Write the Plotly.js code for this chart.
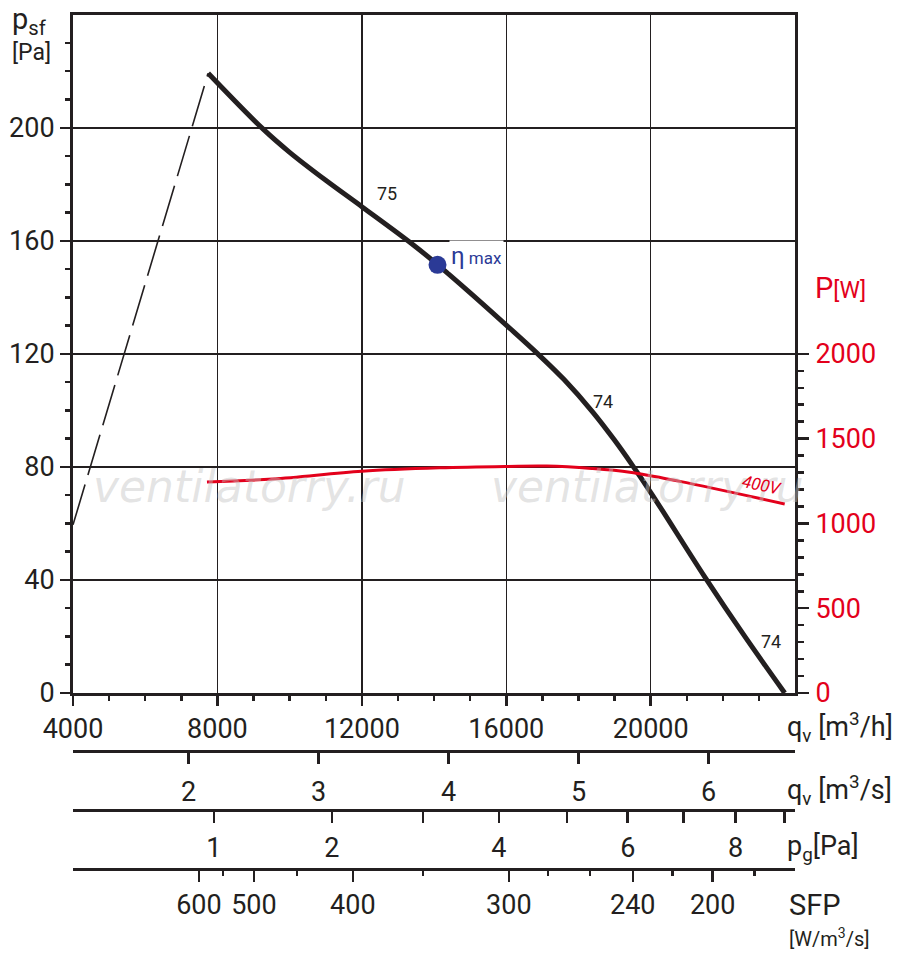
<!DOCTYPE html>
<html>
<head>
<meta charset="utf-8">
<script src="https://cdn.plot.ly/plotly-3.0.1.min.js"></script>
<style>
  html, body { margin: 0; padding: 0; background: #fff; }
  #plot { width: 900px; height: 970px; }
</style>
</head>
<body>
<div id="plot"></div>
<script>
// fan curve: static pressure psf [Pa] against airflow qv [m3/h]
const qCurve = [7744, 9268, 10000, 11000, 12008, 13329, 14095, 15000, 16014, 16872, 17600, 18394, 19000, 19474, 20028, 21495, 22600, 23710];
const psfCurve = [219.3, 199.5, 191.3, 181.4, 172.0, 159.5, 151.6, 141.6, 130.0, 120.0, 110.9, 99.4, 89.4, 80.9, 70.4, 41.1, 20.1, 0];

// dashed stall part
const qStall = [4000, 7744];
const psfStall = [59.5, 219.3];

// power input P [W], 400V
const qPower = [7710, 9536, 12000, 14159, 16014, 17121, 18366, 19420, 20803, 23710];
const pPower = [1245, 1262, 1308, 1328, 1336, 1338, 1324, 1302, 1248, 1115];

// max efficiency point
const qEta = [14095];
const psfEta = [151.5];

// right axis ticks [W]
const pTicks = [0, 500, 1000, 1500, 2000];
const pMinor = [100, 200, 300, 400, 600, 700, 800, 900, 1100, 1200, 1300, 1400, 1600, 1700, 1800, 1900];

// second scale: qv [m3/s]
const qsTicks = [2, 3, 4, 5, 6];

// dynamic pressure pg [Pa] ticks, placed at qv [m3/h]
const pgTickQ = [7903, 11170, 13689, 15792, 17675, 19363, 20913, 22353, 23710];
const pgLabels = ['1', '2', '', '4', '', '6', '', '8', ''];

// SFP [W/m3/s] ticks, placed at qv [m3/h]
const sfpMajorQ = [7488, 9010, 11751, 16069, 19502, 21716];
const sfpMajor = ['600', '500', '400', '300', '240', '200'];
const sfpMinorQ = [8152, 10201, 13689, 17149, 18311, 20609, 22879];

const FONT = 'Roboto, "DejaVu Sans", sans-serif';
const INK = '#231f20';
const RED = '#e3001b';
const BLUE = '#2b3a96';

const xRange = [4000, 23995];
const pPerPa = 1 / 0.06;   // 1 Pa on the left axis = 16.67 W on the right axis
const yRange = [0, 239.9];

const tickFont = { family: FONT, size: 27, color: INK };
const markFont = { family: '"DejaVu Sans", sans-serif', size: 44, color: 'rgba(195,195,195,0.45)', style: 'italic' };

const traces = [
  {
    x: qStall, y: psfStall, mode: 'lines',
    line: { color: INK, width: 1.6, dash: '42px,10px' },
    hoverinfo: 'skip'
  },
  {
    x: qCurve, y: psfCurve, mode: 'lines',
    line: { color: INK, width: 5, shape: 'spline', smoothing: 1 },
    hoverinfo: 'skip'
  },
  {
    x: qPower, y: pPower, yaxis: 'y2', mode: 'lines',
    line: { color: RED, width: 3, shape: 'spline', smoothing: 1 },
    hoverinfo: 'skip'
  },
  {
    x: qEta, y: psfEta, mode: 'markers',
    marker: { color: BLUE, size: 18 },
    hoverinfo: 'skip'
  },
  // empty traces so the extra scales below the chart get drawn
  { x: [null], y: [null], xaxis: 'x2', yaxis: 'y', hoverinfo: 'skip' },
  { x: [null], y: [null], xaxis: 'x3', yaxis: 'y', hoverinfo: 'skip' },
  { x: [null], y: [null], xaxis: 'x4', yaxis: 'y', hoverinfo: 'skip' }
];

const extraAxis = (pos, standoff, extra) => Object.assign({
  overlaying: 'x', anchor: 'free', position: pos, side: 'bottom',
  range: xRange, showgrid: false, zeroline: false,
  showline: true, linecolor: INK, linewidth: 3,
  ticks: 'outside', ticklen: 11, tickwidth: 2.5, tickcolor: INK,
  tickangle: 0, tickfont: tickFont, ticklabelstandoff: standoff
}, extra);

const ann = (text, x, y, opts) => Object.assign({
  text: text, x: x, y: y, xref: 'paper', yref: 'paper',
  showarrow: false, xanchor: 'left', yanchor: 'middle',
  font: { family: FONT, size: 27, color: INK }
}, opts);

const layout = {
  width: 900, height: 970,
  margin: { l: 73, r: 105, t: 15, b: 40 },
  paper_bgcolor: '#fff', plot_bgcolor: '#fff',
  showlegend: false, hovermode: false,
  font: { family: FONT, color: INK },
  xaxis: {
    range: xRange, tick0: 4000, dtick: 4000, tickformat: 'd',
    showgrid: true, gridcolor: INK, gridwidth: 1.5,
    zeroline: false, showline: true, mirror: true, linecolor: INK, linewidth: 3,
    ticks: 'outside', ticklen: 10, tickwidth: 2.5, tickcolor: INK,
    minor: { dtick: 1000, ticks: 'outside', ticklen: 5, tickwidth: 2.5, tickcolor: INK, showgrid: false },
    tickangle: 0, tickfont: tickFont, ticklabelstandoff: 0
  },
  xaxis2: extraAxis(0.19563, 5, {
    range: xRange.map(v => v / 3600), tickmode: 'array', tickvals: qsTicks
  }),
  xaxis3: extraAxis(0.13115, 2, {
    tickmode: 'array', tickvals: pgTickQ, ticktext: pgLabels
  }),
  xaxis4: extraAxis(0.06667, 0, {
    tickmode: 'array', tickvals: sfpMajorQ, ticktext: sfpMajor,
    minor: { tickmode: 'array', tickvals: sfpMinorQ, ticks: 'outside', ticklen: 5, tickwidth: 2.5, tickcolor: INK }
  }),
  yaxis: {
    domain: [0.25902, 1], range: yRange, tick0: 0, dtick: 40,
    showgrid: true, gridcolor: INK, gridwidth: 1.5,
    zeroline: false, showline: true, linecolor: INK, linewidth: 3,
    ticks: 'outside', ticklen: 10, tickwidth: 2.5, tickcolor: INK,
    minor: { dtick: 10, ticks: 'outside', ticklen: 5, tickwidth: 2.5, tickcolor: INK, showgrid: false },
    tickfont: tickFont, ticklabelstandoff: 0
  },
  yaxis2: {
    domain: [0.25902, 1], overlaying: 'y', side: 'right', anchor: 'x',
    range: yRange.map(v => v * pPerPa),
    tickmode: 'array', tickvals: pTicks,
    showgrid: false, zeroline: false, showline: true, linecolor: INK, linewidth: 3,
    ticks: 'outside', ticklen: 11, tickwidth: 2.5, tickcolor: INK,
    minor: { tickmode: 'array', tickvals: pMinor, ticks: 'outside', ticklen: 6, tickwidth: 2.5, tickcolor: INK },
    tickfont: { family: FONT, size: 27, color: RED }, ticklabelstandoff: 1
  },
  annotations: [
    // watermark
    { text: 'ventilatorry.ru', x: 8900, y: 72.9, xref: 'x', yref: 'y', showarrow: false, font: markFont },
    { text: 'ventilatorry.ru', x: 19917, y: 72.9, xref: 'x', yref: 'y', showarrow: false, font: markFont },
    // curve labels
    { text: '75', x: 12692, y: 176.6, xref: 'x', yref: 'y', showarrow: false,
      font: { family: FONT, size: 18, color: INK } },
    { text: '74', x: 18671, y: 103.0, xref: 'x', yref: 'y', showarrow: false,
      font: { family: FONT, size: 18, color: INK } },
    { text: '74', x: 23322, y: 18.1, xref: 'x', yref: 'y', showarrow: false,
      font: { family: FONT, size: 18, color: INK } },
    { text: '400V', x: 23073, y: 73.6, xref: 'x', yref: 'y', showarrow: false, textangle: 12,
      font: { family: FONT, size: 17, color: RED, style: 'italic' } },
    { text: 'η<span style="font-size:17px"> max</span>', x: 15180, y: 154.7, xref: 'x', yref: 'y',
      showarrow: false, bgcolor: '#fff', borderpad: 1,
      font: { family: FONT, size: 24, color: BLUE } },
    // axis titles
    ann('p<sub>sf</sub>', -0.0873, 0.9935, { font: { family: FONT, size: 29, color: INK } }),
    ann('[Pa]', -0.0873, 0.9585, { font: { family: FONT, size: 23, color: INK } }),
    ann('P<span style="font-size:23px">[W]</span>', 1.025, 0.7016, { font: { family: FONT, size: 29, color: RED } }),
    ann('q<sub>v</sub> [m<sup>3</sup>/h]', 0.986, 0.2219),
    ann('q<sub>v</sub> [m<sup>3</sup>/s]', 0.986, 0.153),
    ann('p<sub>g</sub>[Pa]', 0.986, 0.0896),
    ann('SFP', 0.989, 0.0273, { font: { family: FONT, size: 29, color: INK } }),
    ann('[W/m<sup>3</sup>/s]', 0.989, -0.0087, { font: { family: FONT, size: 20, color: INK } })
  ]
};

Plotly.newPlot('plot', traces, layout, { staticPlot: true });
</script>
</body>
</html>
